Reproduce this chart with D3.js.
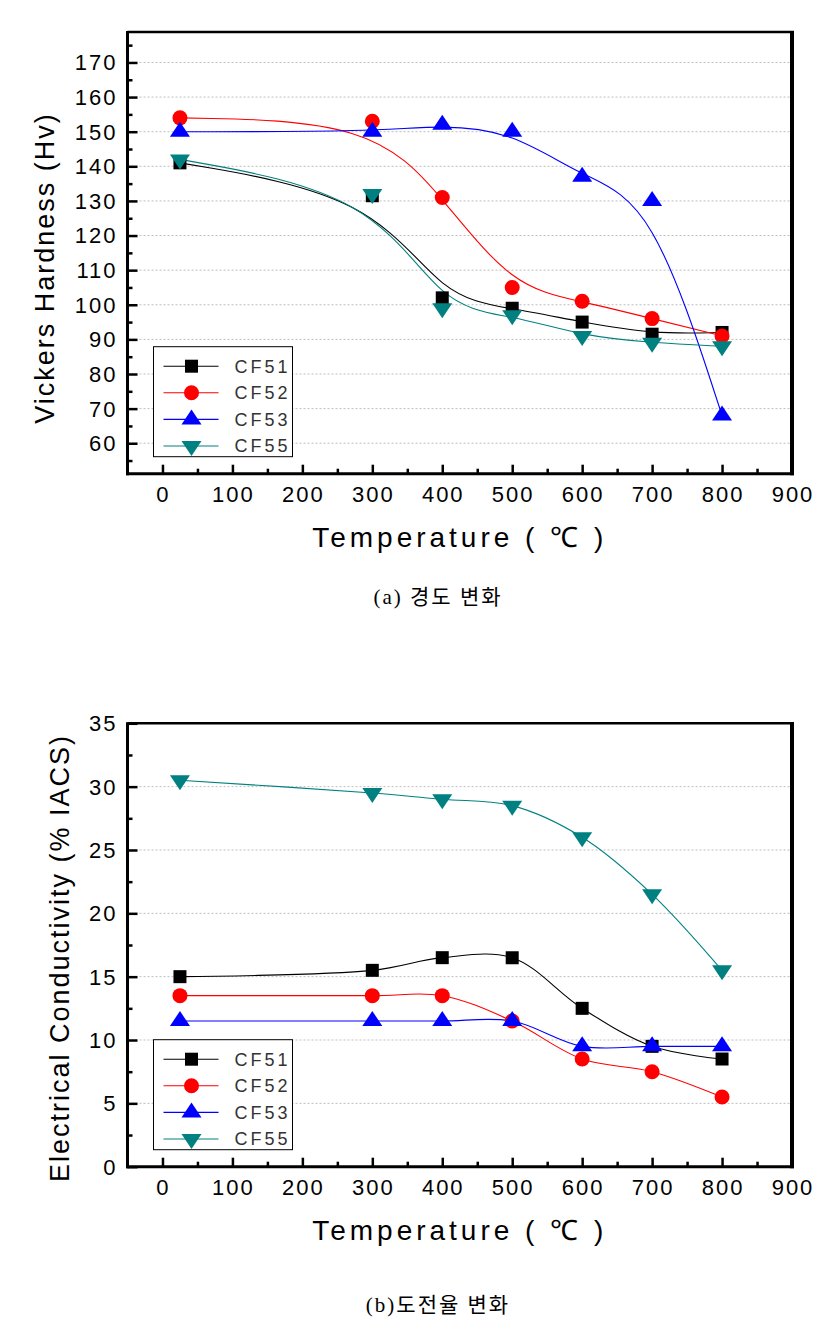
<!DOCTYPE html>
<html>
<head>
<meta charset="utf-8">
<script src="https://cdn.jsdelivr.net/npm/d3@7"></script>
<style>
  html, body { margin: 0; padding: 0; background: #fff; }
  svg { display: block; }
</style>
</head>
<body>
<svg id="chart" width="822" height="1335"></svg>
<script>
// ---------------- data ----------------
const temps = [25, 300, 400, 500, 600, 700, 800];
const seriesNames = ["CF51", "CF52", "CF53", "CF55"];
const seriesColors = ["#000000", "#ff0000", "#0000ff", "#008080"];
const seriesShapes = ["square", "circle", "up", "down"];

const hardnessCF51 = [141, 131.5, 102, 99, 95, 91.5, 92];
const hardnessCF52 = [154, 153, 131, 105, 101, 96, 91];
const hardnessCF53 = [150, 150, 152, 150, 137, 130, 68];
const hardnessCF55 = [142, 132, 99, 97, 91, 89, 88];

const condCF51 = [15, 15.5, 16.5, 16.5, 12.5, 9.5, 8.5];
const condCF52 = [13.5, 13.5, 13.5, 11.5, 8.5, 7.5, 5.5];
const condCF53 = [11.5, 11.5, 11.5, 11.5, 9.5, 9.5, 9.5];
const condCF55 = [30.5, 29.5, 29, 28.5, 26, 21.5, 15.5];

const xTickValues = [0, 100, 200, 300, 400, 500, 600, 700, 800, 900];
const xMinorTicks = [50, 150, 250, 350, 450, 550, 650, 750, 850];
const hardnessTicks = [60, 70, 80, 90, 100, 110, 120, 130, 140, 150, 160, 170];
const hardnessMinor = [55, 65, 75, 85, 95, 105, 115, 125, 135, 145, 155, 165, 175];
const condTicks = [0, 5, 10, 15, 20, 25, 30, 35];
const condMinor = [2.5, 7.5, 12.5, 17.5, 22.5, 27.5, 32.5];

const xTitle = "Temperature ( \u2103 )";
const hardnessTitle = "Vickers Hardness (Hv)";
const condTitle = "Electrical Conductivity (% IACS)";
const captionA = "(a) 경도 변화";
const captionB = "(b)도전율 변화";

// ---------------- drawing ----------------
const svg = d3.select("#chart");
const FONT = "'Liberation Sans', Arial, sans-serif";

function markerPath(shape, cx, cy) {
  const p = d3.path();
  if (shape === "square") {
    const s = 13;
    p.rect(cx - s / 2, cy - s / 2, s, s);
  } else if (shape === "circle") {
    p.arc(cx, cy, 7.5, 0, 2 * Math.PI);
  } else if (shape === "up") {
    const w = 20, h = 15;
    p.moveTo(cx, cy - 2 * h / 3);
    p.lineTo(cx + w / 2, cy + h / 3);
    p.lineTo(cx - w / 2, cy + h / 3);
    p.closePath();
  } else {
    const w = 20, h = 15;
    p.moveTo(cx, cy + 2 * h / 3);
    p.lineTo(cx + w / 2, cy - h / 3);
    p.lineTo(cx - w / 2, cy - h / 3);
    p.closePath();
  }
  return p.toString();
}

function drawPanel(cfg) {
  const g = svg.append("g");
  const x = d3.scaleLinear().domain([-50, 900]).range([cfg.left, cfg.right]);
  const y = d3.scaleLinear().domain(cfg.yDomain).range([cfg.bottom, cfg.top]);

  // gridlines
  g.append("g").selectAll("line").data(cfg.yTicks.filter(v => v > cfg.yDomain[0] && v < cfg.yDomain[1]))
    .join("line")
    .attr("x1", cfg.left).attr("x2", cfg.right)
    .attr("y1", d => y(d)).attr("y2", d => y(d))
    .attr("stroke", "#bdbdbd").attr("stroke-width", 1)
    .attr("stroke-dasharray", "2,2");

  // curves
  const series = cfg.series;
  series.forEach((vals, i) => {
    const line = d3.line().x((d, j) => x(temps[j])).y(d => y(d)).curve(cfg.curve);
    g.append("path").datum(vals)
      .attr("d", line)
      .attr("fill", "none")
      .attr("stroke", seriesColors[i])
      .attr("stroke-width", 1.1);
  });
  // markers
  series.forEach((vals, i) => {
    g.append("g").selectAll("path").data(vals).join("path")
      .attr("d", (d, j) => markerPath(seriesShapes[i], x(temps[j]), y(d)))
      .attr("fill", seriesColors[i]);
  });

  // frame
  g.append("line").attr("x1", cfg.left).attr("x2", cfg.right + 2).attr("y1", cfg.top).attr("y2", cfg.top)
    .attr("stroke", "#000").attr("stroke-width", 2.5);
  g.append("line").attr("x1", cfg.right).attr("x2", cfg.right).attr("y1", cfg.top - 1).attr("y2", cfg.bottom + 1.5)
    .attr("stroke", "#000").attr("stroke-width", 4);
  g.append("line").attr("x1", cfg.left).attr("x2", cfg.left).attr("y1", cfg.top - 1).attr("y2", cfg.bottom + 1.5)
    .attr("stroke", "#000").attr("stroke-width", 3);
  g.append("line").attr("x1", cfg.left - 1.5).attr("x2", cfg.right + 2).attr("y1", cfg.bottom).attr("y2", cfg.bottom)
    .attr("stroke", "#000").attr("stroke-width", 3);

  // x axis ticks (inward)
  const xAxis = d3.axisBottom(x).tickValues(xTickValues).tickSize(-9).tickPadding(0).tickFormat("");
  const xg = g.append("g").attr("transform", `translate(0,${cfg.bottom})`).call(xAxis);
  xg.select(".domain").remove();
  xg.selectAll(".tick line").attr("stroke", "#000").attr("stroke-width", 2.5);
  const xMin = d3.axisBottom(x).tickValues(xMinorTicks).tickSize(-5).tickFormat("");
  const xmg = g.append("g").attr("transform", `translate(0,${cfg.bottom})`).call(xMin);
  xmg.select(".domain").remove();
  xmg.selectAll(".tick line").attr("stroke", "#000").attr("stroke-width", 2.5);

  g.append("g").selectAll("text").data(xTickValues).join("text")
    .attr("x", d => x(d) + 1)
    .attr("y", cfg.bottom + 28)
    .attr("text-anchor", "middle")
    .attr("font-family", FONT).attr("font-size", 22).attr("letter-spacing", "2px")
    .text(d => d);

  // y axis ticks (inward)
  const yAxis = d3.axisLeft(y).tickValues(cfg.yTicks.filter(v => v >= cfg.yDomain[0] && v <= cfg.yDomain[1])).tickSize(-10).tickFormat("");
  const yg = g.append("g").attr("transform", `translate(${cfg.left},0)`).call(yAxis);
  yg.select(".domain").remove();
  yg.selectAll(".tick line").attr("stroke", "#000").attr("stroke-width", 2.5);
  const yMin = d3.axisLeft(y).tickValues(cfg.yMinor).tickSize(-5).tickFormat("");
  const ymg = g.append("g").attr("transform", `translate(${cfg.left},0)`).call(yMin);
  ymg.select(".domain").remove();
  ymg.selectAll(".tick line").attr("stroke", "#000").attr("stroke-width", 2.5);

  g.append("g").selectAll("text").data(cfg.yTicks).join("text")
    .attr("x", cfg.left - 10)
    .attr("y", d => y(d))
    .attr("dy", "0.36em")
    .attr("text-anchor", "end")
    .attr("font-family", FONT).attr("font-size", 22).attr("letter-spacing", "2px")
    .text(d => d);

  // axis titles
  g.append("text")
    .attr("x", (cfg.left + cfg.right) / 2)
    .attr("y", cfg.bottom + 73)
    .attr("text-anchor", "middle")
    .attr("font-family", FONT).attr("font-size", 28).attr("letter-spacing", "4px")
    .text(xTitle);
  g.append("text")
    .attr("transform", `translate(${cfg.yTitleX},${cfg.yTitleY}) rotate(-90)`)
    .attr("text-anchor", "middle")
    .attr("dy", "0.36em")
    .attr("font-family", FONT).attr("font-size", 27).attr("letter-spacing", "2px")
    .text(cfg.yTitle);

  // legend
  const lx = cfg.left + 26, ly = cfg.bottom - 127;
  const lg = g.append("g");
  lg.append("rect").attr("x", lx).attr("y", ly).attr("width", 139).attr("height", 110)
    .attr("fill", "#fff").attr("stroke", "#000").attr("stroke-width", 1);
  seriesNames.forEach((name, i) => {
    const cy = ly + 19.5 + i * 26.6;
    lg.append("line").attr("x1", lx + 10).attr("x2", lx + 65).attr("y1", cy).attr("y2", cy)
      .attr("stroke", seriesColors[i]).attr("stroke-width", 1.1);
    lg.append("path").attr("d", markerPath(seriesShapes[i], lx + 38, cy)).attr("fill", seriesColors[i]);
    lg.append("text").attr("x", lx + 81).attr("y", cy).attr("dy", "0.36em")
      .attr("font-family", FONT).attr("font-size", 18).attr("letter-spacing", "3px")
      .attr("fill", "#333").text(name);
  });

  // caption
  g.append("text")
    .attr("x", 438).attr("y", cfg.captionY)
    .attr("text-anchor", "middle")
    .attr("font-family", "'Liberation Serif', 'Noto Sans CJK KR', serif")
    .attr("font-size", 21).attr("letter-spacing", "2px")
    .text(cfg.caption);
}

drawPanel({
  left: 127.5, right: 792, top: 32, bottom: 473.7,
  yDomain: [51.2, 178.8],
  yTicks: hardnessTicks, yMinor: hardnessMinor,
  series: [hardnessCF51, hardnessCF52, hardnessCF53, hardnessCF55],
  curve: d3.curveBasis,
  yTitle: hardnessTitle, yTitleX: 44, yTitleY: 268,
  caption: captionA, captionY: 604
});

drawPanel({
  left: 127.5, right: 792, top: 723.3, bottom: 1166.7,
  yDomain: [0, 35],
  yTicks: condTicks, yMinor: condMinor,
  series: [condCF51, condCF52, condCF53, condCF55],
  curve: d3.curveCatmullRom.alpha(0.5),
  yTitle: condTitle, yTitleX: 59, yTitleY: 958,
  caption: captionB, captionY: 1312
});
</script>
</body>
</html>
